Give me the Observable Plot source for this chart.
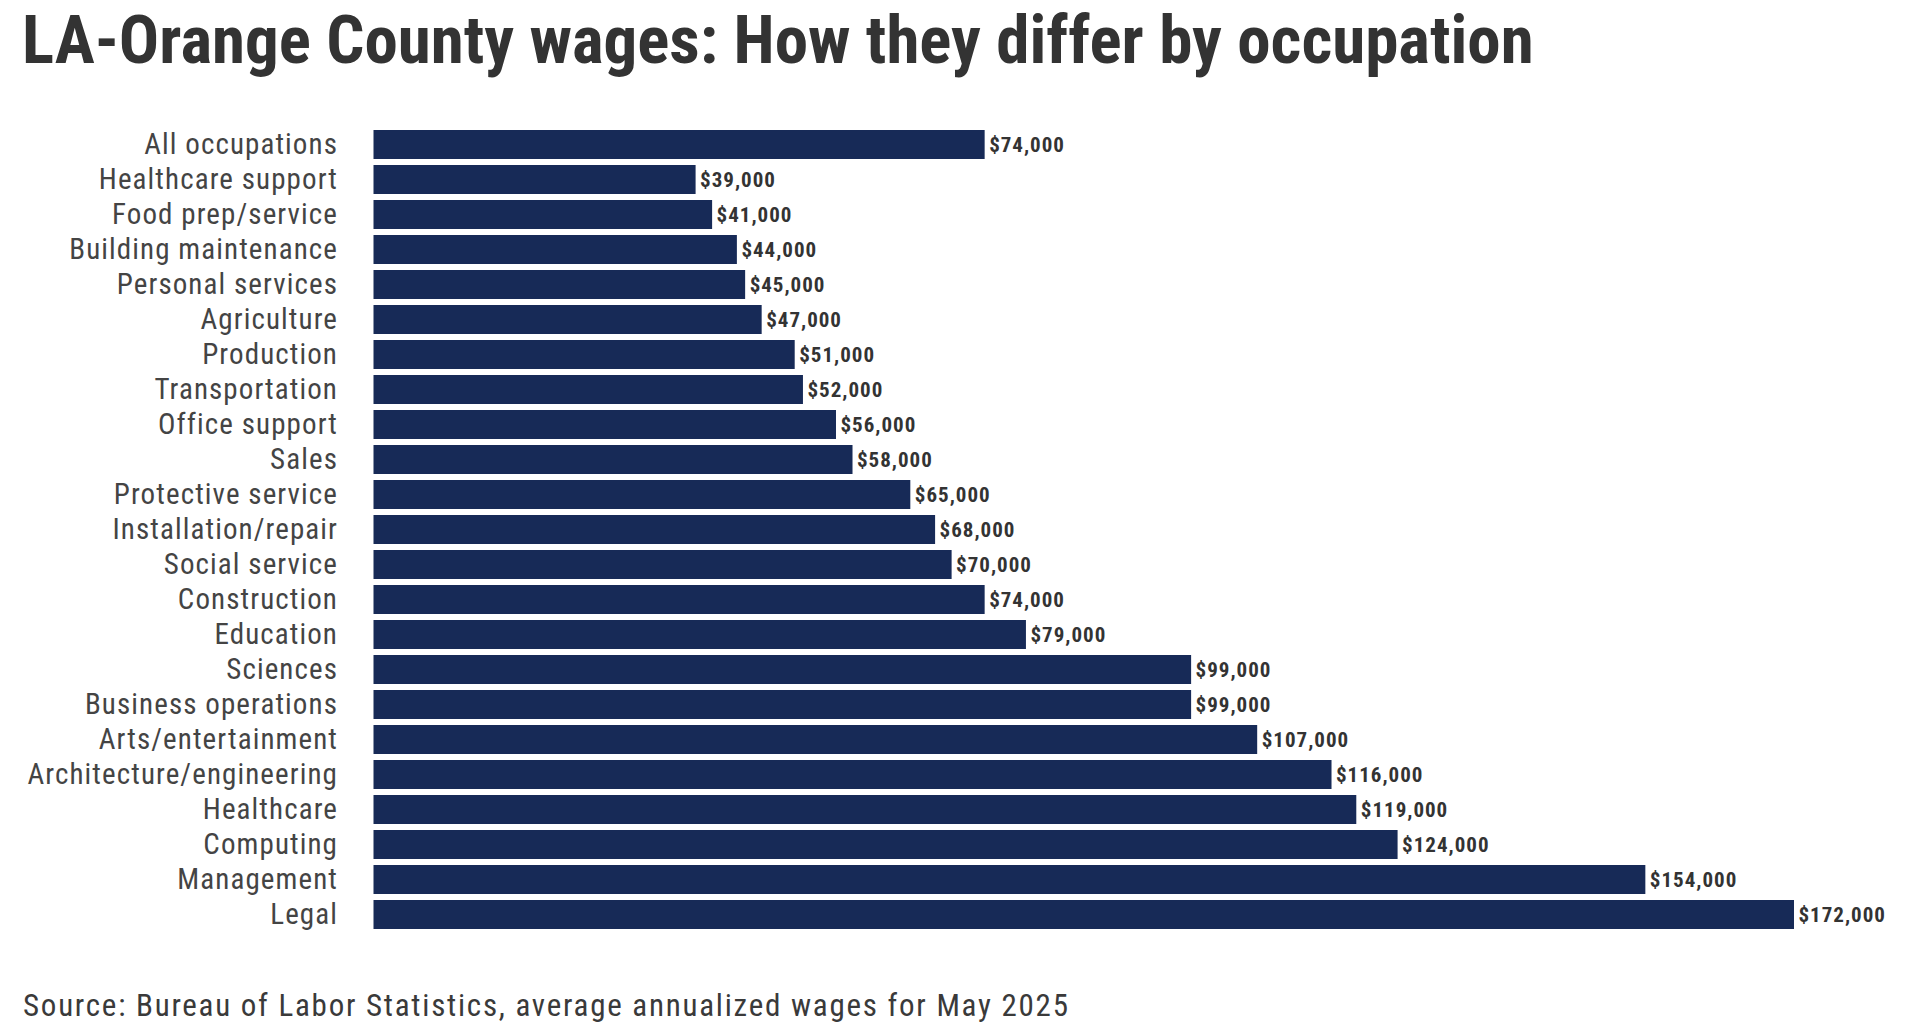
<!DOCTYPE html>
<html>
<head>
<meta charset="utf-8">
<script src="https://cdn.jsdelivr.net/npm/d3@7"></script>
<script src="https://cdn.jsdelivr.net/npm/@observablehq/plot@0.6"></script>
<style>
  html, body { margin: 0; padding: 0; background: #fff; }
  #wrap { position: relative; width: 1920px; height: 1024px; overflow: hidden;
    font-family: "Roboto Condensed", "Liberation Sans Narrow", "DejaVu Sans Condensed", Roboto, sans-serif; color: #333; }
  #title { position: absolute; left: 22px; top: 6.5px; margin: 0; font-size: 67px; font-weight: 700; line-height: 1; color: #333; white-space: nowrap; }
  #chart { position: absolute; left: 0; top: 100px; }
  #source { position: absolute; left: 23px; top: 990px; font-size: 31px; letter-spacing: 1.75px; line-height: 1; color: #3a3a3a; white-space: nowrap; }
  #chart svg g[aria-label="y-axis tick label"] text { letter-spacing: 1.1px; }
  #chart svg g[aria-label="text"] text { letter-spacing: 1px; }
</style>
</head>
<body>
<div id="wrap">
  <h1 id="title">LA-Orange County wages: How they differ by occupation</h1>
  <div id="chart"></div>
  <div id="source">Source: Bureau of Labor Statistics, average annualized wages for May 2025</div>
</div>
<script>
const categories = [
  "All occupations", "Healthcare support", "Food prep/service", "Building maintenance",
  "Personal services", "Agriculture", "Production", "Transportation", "Office support",
  "Sales", "Protective service", "Installation/repair", "Social service", "Construction",
  "Education", "Sciences", "Business operations", "Arts/entertainment",
  "Architecture/engineering", "Healthcare", "Computing", "Management", "Legal"
];
const wages = [
  74000, 39000, 41000, 44000, 45000, 47000, 51000, 52000, 56000, 58000, 65000, 68000,
  70000, 74000, 79000, 99000, 99000, 107000, 116000, 119000, 124000, 154000, 172000
];

const data = categories.map((c, i) => ({category: c, wage: wages[i]}));
const fmt = d3.format("$,");
const fontStack = '"Roboto Condensed", "Liberation Sans Narrow", "DejaVu Sans Condensed", Roboto, sans-serif';

const chart = Plot.plot({
  width: 1920,
  height: 850,
  marginLeft: 373.5,
  marginRight: 126,
  marginTop: 21,
  marginBottom: 11,
  style: {fontFamily: fontStack, fontSize: "29px", color: "#444", background: "transparent"},
  x: {domain: [0, 172000], axis: null},
  y: {domain: categories, padding: 0.17, axis: null},
  marks: [
    Plot.barX(data, {x: "wage", y: "category", fill: "#172a57"}),
    Plot.text(data, {x: "wage", y: "category", text: d => fmt(d.wage), textAnchor: "start", dx: 4,
      fontWeight: "bold", fontSize: 21, fill: "#333"}),
    Plot.axisY({tickSize: 0, tickPadding: 36, label: null, fontSize: 29})
  ]
});
document.getElementById("chart").appendChild(chart);
</script>
</body>
</html>
